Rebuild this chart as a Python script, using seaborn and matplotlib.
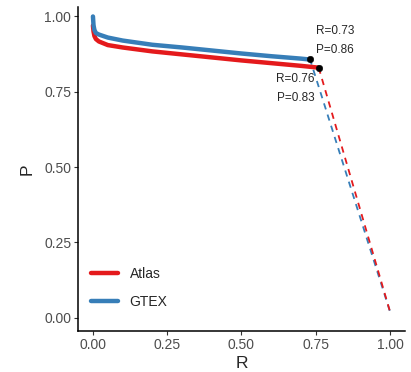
import numpy as np
import pandas as pd
import seaborn as sns
import matplotlib.pyplot as plt

# precision-recall curves
atlas_r = [0.0, 0.002, 0.005, 0.01, 0.02, 0.05, 0.1, 0.2, 0.3, 0.4, 0.5, 0.6, 0.7, 0.76]
atlas_p = [0.97, 0.95, 0.935, 0.925, 0.917, 0.905, 0.897, 0.884, 0.874, 0.864, 0.854, 0.845, 0.836, 0.83]
gtex_r = [0.0, 0.002, 0.005, 0.01, 0.02, 0.05, 0.1, 0.2, 0.3, 0.4, 0.5, 0.6, 0.7, 0.73]
gtex_p = [1.0, 0.97, 0.955, 0.945, 0.94, 0.93, 0.92, 0.906, 0.897, 0.887, 0.877, 0.868, 0.86, 0.857]

# extension to full recall
atlas_tail = ([0.76, 1.0], [0.83, 0.02])
gtex_tail = ([0.73, 1.0], [0.86, 0.02])

labels = ['Atlas', 'GTEX']
colors = {'Atlas': '#E41A1C', 'GTEX': '#377EB8'}

curves = pd.concat([
    pd.DataFrame({'R': atlas_r, 'P': atlas_p, 'set': 'Atlas'}),
    pd.DataFrame({'R': gtex_r, 'P': gtex_p, 'set': 'GTEX'}),
])
tails = pd.concat([
    pd.DataFrame({'R': gtex_tail[0], 'P': gtex_tail[1], 'set': 'GTEX'}),
    pd.DataFrame({'R': atlas_tail[0], 'P': atlas_tail[1], 'set': 'Atlas'}),
])
ends = pd.DataFrame({'R': [0.73, 0.76], 'P': [0.86, 0.83]})

sns.set_theme(style='white')
plt.rcParams['font.family'] = ['Liberation Sans', 'DejaVu Sans']

fig, ax = plt.subplots(figsize=(4.11, 3.72), dpi=100)
sns.lineplot(data=tails, x='R', y='P', hue='set', palette=colors, hue_order=['GTEX', 'Atlas'],
             linewidth=1.3, legend=False, ax=ax, sort=False, estimator=None)
for ln in ax.lines:
    ln.set_linestyle((0, (3.5, 3)))
sns.lineplot(data=curves, x='R', y='P', hue='set', palette=colors, hue_order=labels,
             linewidth=3.2, ax=ax, sort=False, estimator=None)
sns.scatterplot(data=ends, x='R', y='P', color='black', s=22, ax=ax, zorder=5, edgecolor=None)

ax.text(0.75, 0.868, 'R=0.73\nP=0.86', fontsize=8.5, ha='left', va='bottom', linespacing=1.75)
ax.text(0.745, 0.812, 'R=0.76\nP=0.83', fontsize=8.5, ha='right', va='top', linespacing=1.75)

ax.set_xlim(-0.05, 1.05)
ax.set_ylim(-0.045, 1.03)
ax.set_xticks([0, 0.25, 0.5, 0.75, 1.0])
ax.set_yticks([0, 0.25, 0.5, 0.75, 1.0])
ax.set_xticklabels(['0.00', '0.25', '0.50', '0.75', '1.00'])
ax.set_yticklabels(['0.00', '0.25', '0.50', '0.75', '1.00'])
ax.tick_params(axis='both', length=3, width=0.8, color='#333333', labelcolor='#4D4D4D',
               labelsize=10, bottom=True, left=True, pad=2)
ax.set_xlabel('R', fontsize=12.5, labelpad=3)
ax.set_ylabel('P', fontsize=12.5, labelpad=7)
sns.despine(ax=ax)
for s in ['left', 'bottom']:
    ax.spines[s].set_linewidth(1.1)
    ax.spines[s].set_color('black')

leg = ax.legend(loc='lower left', bbox_to_anchor=(0.0, 0.03), frameon=False, fontsize=10,
                handlelength=2.0, labelspacing=1.0, title=None)
for h in leg.get_lines():
    h.set_linewidth(3.2)

fig.subplots_adjust(left=0.19, right=0.985, bottom=0.11, top=0.98)
fig.savefig('out.png', dpi=100)
